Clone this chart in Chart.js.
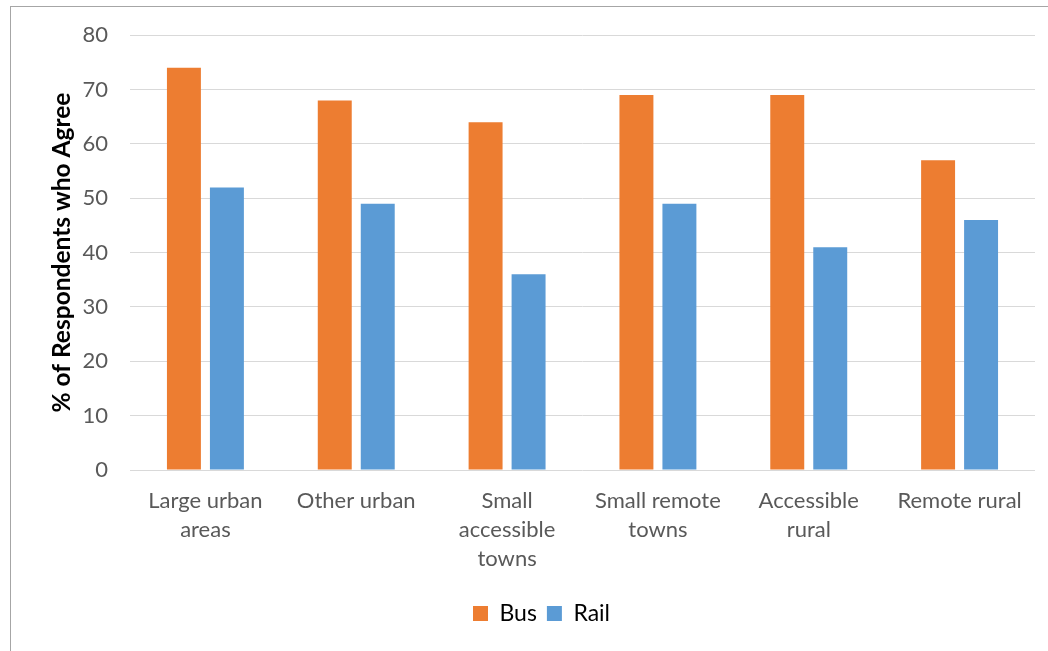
<!DOCTYPE html>
<html>
<head>
<meta charset="utf-8">
<script src="https://cdn.jsdelivr.net/npm/chart.js@4/dist/chart.umd.min.js"></script>
<style>
  html, body { margin: 0; padding: 0; background: #fff; overflow: hidden; }
  #wrap { position: relative; width: 1048px; height: 651px; }
  #frame { position: absolute; left: 10px; top: 6px; width: 1200px; height: 800px; border: 1px solid #a6a6a6; box-sizing: border-box; }
  canvas { position: absolute; left: 0; top: 0; }
</style>
</head>
<body>
<div id="wrap">
  <div id="frame"></div>
  <canvas id="c" width="1048" height="651"></canvas>
</div>
<script>
const categories = [
  ["Large urban", "areas"],
  ["Other urban"],
  ["Small", "accessible", "towns"],
  ["Small remote", "towns"],
  ["Accessible", "rural"],
  ["Remote rural"]
];
const busValues = [74, 68, 64, 69, 69, 57];
const railValues = [52, 49, 36, 49, 41, 46];
const yTicks = [0, 10, 20, 30, 40, 50, 60, 70, 80];
const yTitle = "% of Respondents who Agree";

const FONT = "Lato, 'Open Sans', sans-serif";

const shiftLegend = {
  id: 'shiftLegend',
  afterUpdate(chart) {
    const lg = chart.legend;
    if (lg) { lg.left += 24; lg.right += 24; }
  }
};

new Chart(document.getElementById('c'), {
  type: 'bar',
  data: {
    labels: categories,
    datasets: [
      { label: 'Bus', data: busValues, backgroundColor: '#ED7D31', categoryPercentage: 0.57, barPercentage: 0.79 },
      { label: 'Rail', data: railValues, backgroundColor: '#5B9BD5', categoryPercentage: 0.57, barPercentage: 0.79 }
    ]
  },
  plugins: [shiftLegend],
  options: {
    responsive: false,
    animation: false,
    devicePixelRatio: 1,
    layout: { padding: { left: 0, right: 13, top: 35, bottom: 16 } },
    plugins: {
      tooltip: { enabled: false },
      legend: {
        position: 'bottom',
        labels: {
          boxWidth: 15, boxHeight: 15, padding: 10,
          color: '#000',
          font: { family: FONT, size: 23 }
        }
      }
    },
    scales: {
      x: {
        grid: { display: false, drawTicks: false },
        border: { display: false },
        ticks: {
          color: '#595959',
          font: { family: FONT, size: 22, lineHeight: 1.32 },
          padding: 16,
          maxRotation: 0,
          autoSkip: false
        },
        afterFit: (s) => { s.height = 122; }
      },
      y: {
        min: yTicks[0],
        max: yTicks[yTicks.length - 1],
        afterBuildTicks: (s) => { s.ticks = yTicks.map(v => ({ value: v })); },
        grid: { color: '#d9d9d9', lineWidth: 1, drawTicks: false },
        border: { display: false },
        ticks: {
          color: '#595959',
          font: { family: FONT, size: 22 },
          padding: 22
        },
        title: {
          display: true,
          text: yTitle,
          color: '#000',
          font: { family: FONT, size: 24.5, weight: 'bold' },
          padding: { top: 47, bottom: 0 }
        },
        afterFit: (s) => { s.width = 130; }
      }
    }
  }
});
</script>
</body>
</html>
